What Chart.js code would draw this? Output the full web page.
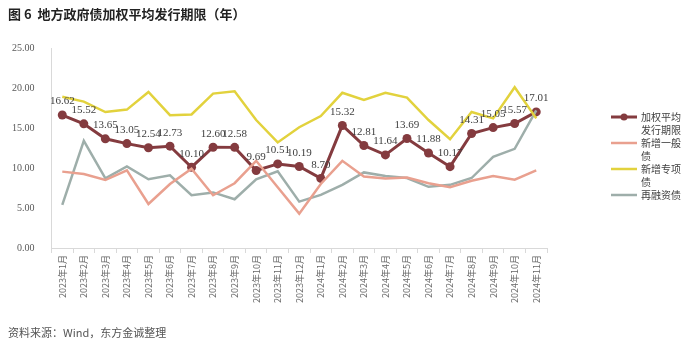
<!DOCTYPE html>
<html>
<head>
<meta charset="utf-8">
<script src="https://cdn.jsdelivr.net/npm/chart.js@4.4.1/dist/chart.umd.min.js"></script>
<style>
  html, body { margin: 0; padding: 0; background: #fff; }
  #wrap { position: relative; width: 700px; height: 348px; overflow: hidden; }
  #title { position: absolute; left: 8px; top: 4px; font: bold 13px "Noto Sans CJK SC", sans-serif; color: #222; }
  #source { position: absolute; left: 8px; top: 324px; font: 11px "Noto Sans CJK SC", sans-serif; color: #555; }
  canvas { position: absolute; left: 0; top: 0; }
</style>
</head>
<body>
<div id="wrap">
  <canvas id="c" width="700" height="348"></canvas>
  <div id="title">图 6&nbsp; 地方政府债加权平均发行期限（年）</div>
  <div id="source">资料来源：Wind，东方金诚整理</div>
</div>
<script>
// months 2023-01 .. 2024-11
const months = [
  "2023年1月", "2023年2月", "2023年3月", "2023年4月", "2023年5月", "2023年6月",
  "2023年7月", "2023年8月", "2023年9月", "2023年10月", "2023年11月", "2023年12月",
  "2024年1月", "2024年2月", "2024年3月", "2024年4月", "2024年5月", "2024年6月",
  "2024年7月", "2024年8月", "2024年9月", "2024年10月", "2024年11月"
];

// 加权平均发行期限 (labelled values)
const weighted = [16.62, 15.52, 13.65, 13.05, 12.54, 12.73, 10.10, 12.60, 12.58, 9.69, 10.51, 10.19,
  8.70, 15.32, 12.81, 11.64, 13.69, 11.88, 10.17, 14.31, 15.05, 15.57, 17.01];
// 新增一般债
const general = [9.55, 9.25, 8.5, 9.7, 5.5, 8.0, 9.9, 6.6, 8.1, 10.9, 7.6, 4.3,
  8.0, 10.9, 8.95, 8.7, 8.8, 8.1, 7.6, 8.4, 9.0, 8.55, 9.7];
// 新增专项债
const special = [18.9, 18.3, 17.0, 17.3, 19.5, 16.6, 16.7, 19.3, 19.6, 16.0, 13.2, 15.1,
  16.5, 19.4, 18.5, 19.4, 18.8, 16.0, 13.6, 17.0, 16.2, 20.1, 16.2];
// 再融资债
const refinance = [5.4, 13.4, 8.7, 10.2, 8.6, 9.1, 6.6, 6.95, 6.1, 8.6, 9.6, 5.8,
  6.65, 7.9, 9.45, 9.0, 8.75, 7.65, 7.9, 8.75, 11.4, 12.4, 17.2];

const yTicks = [0, 5, 10, 15, 20, 25];

const seriesNames = [["加权平均", "发行期限"], ["新增一般", "债"], ["新增专项", "债"], ["再融资债"]];
const colors = ["#843b3f", "#e9a08f", "#e2d23d", "#9eaeaa"];

// value labels above the weighted series
const valueLabels = {
  id: "valueLabels",
  afterDatasetsDraw(chart) {
    const ctx = chart.ctx;
    const meta = chart.getDatasetMeta(3);
    ctx.save();
    ctx.font = '11px "Liberation Serif", serif';
    ctx.fillStyle = "#404040";
    ctx.textAlign = "center";
    ctx.textBaseline = "bottom";
    meta.data.forEach((pt, i) => {
      ctx.fillText(weighted[i].toFixed(2), pt.x, pt.y - 8);
    });
    ctx.restore();
  }
};

// legend at the right, with wrapped labels
const sideLegend = {
  id: "sideLegend",
  afterDraw(chart) {
    const ctx = chart.ctx;
    const x0 = 611, x1 = 637, tx = 641;
    let y = 117;
    ctx.save();
    ctx.font = '10px "Noto Sans CJK SC", sans-serif';
    ctx.textBaseline = "middle";
    ctx.textAlign = "left";
    seriesNames.forEach((lines, i) => {
      ctx.strokeStyle = colors[i];
      ctx.lineWidth = i === 0 ? 3 : 2.5;
      ctx.beginPath();
      ctx.moveTo(x0, y);
      ctx.lineTo(x1, y);
      ctx.stroke();
      if (i === 0) {
        ctx.fillStyle = colors[0];
        ctx.beginPath();
        ctx.arc((x0 + x1) / 2, y, 3.5, 0, Math.PI * 2);
        ctx.fill();
      }
      ctx.fillStyle = "#404040";
      lines.forEach((t, k) => ctx.fillText(t, tx, y + k * 13));
      y += lines.length * 13;
    });
    ctx.restore();
  }
};

new Chart(document.getElementById("c"), {
  type: "line",
  data: {
    labels: months,
    datasets: [
      { label: "新增一般债", data: general, borderColor: colors[1], borderWidth: 2.5, pointRadius: 0, tension: 0 },
      { label: "新增专项债", data: special, borderColor: colors[2], borderWidth: 2.5, pointRadius: 0, tension: 0 },
      { label: "再融资债", data: refinance, borderColor: colors[3], borderWidth: 2.5, pointRadius: 0, tension: 0 },
      { label: "加权平均发行期限", data: weighted, borderColor: colors[0], backgroundColor: colors[0],
        borderWidth: 3, pointRadius: 4.5, pointBorderWidth: 0, tension: 0 }
    ]
  },
  options: {
    responsive: false,
    animation: false,
    layout: { padding: { left: 3, right: 153, top: 48, bottom: 43 } },
    plugins: { legend: { display: false }, tooltip: { enabled: false } },
    scales: {
      x: {
        offset: true,
        grid: { display: true, drawOnChartArea: false, offset: true, tickLength: 5, color: "#d9d9d9" },
        border: { color: "#d9d9d9" },
        ticks: { minRotation: 90, maxRotation: 90, autoSkip: false, color: "#666666", padding: 2,
          font: { size: 9, family: '"Noto Sans CJK SC", sans-serif' } }
      },
      y: {
        min: 0, max: 25,
        afterBuildTicks(axis) { axis.ticks = yTicks.map(v => ({ value: v })); },
        grid: { display: false },
        border: { color: "#d9d9d9" },
        ticks: { color: "#595959", padding: 9, font: { size: 10, family: '"Liberation Serif", serif' },
          callback: v => v.toFixed(2) }
      }
    }
  },
  plugins: [valueLabels, sideLegend]
});
</script>
</body>
</html>
